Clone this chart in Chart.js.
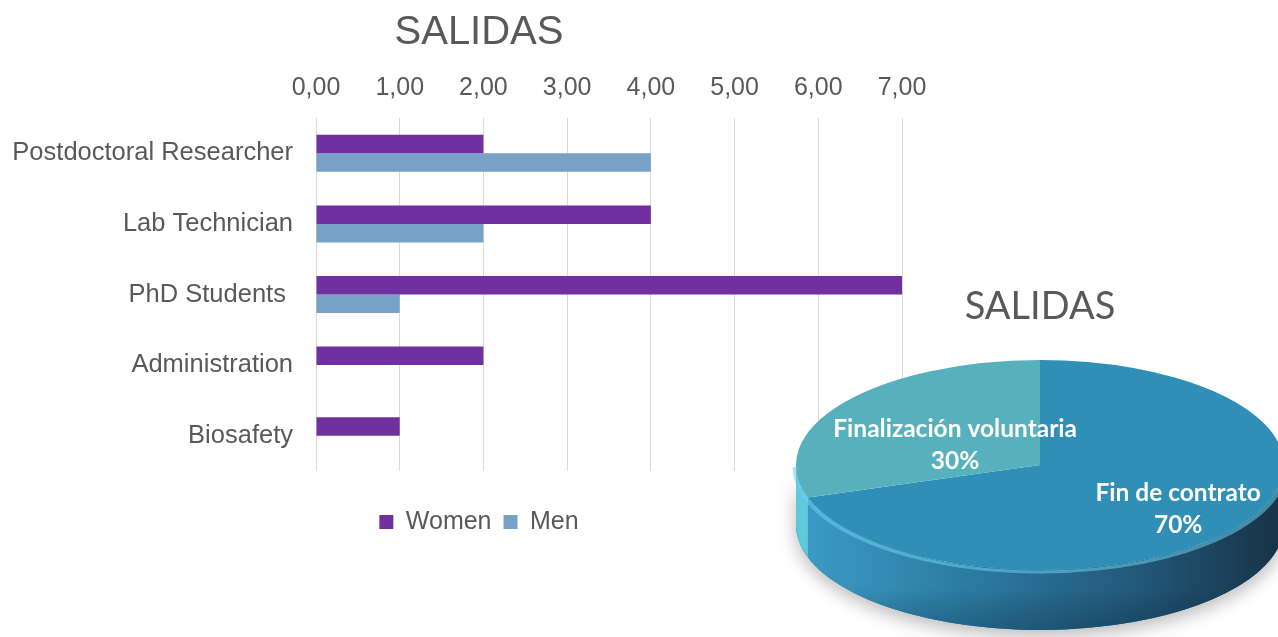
<!DOCTYPE html>
<html>
<head>
<meta charset="utf-8">
<script src="https://cdn.jsdelivr.net/npm/chart.js@4.4.1/dist/chart.umd.min.js"></script>
<style>
  html, body { margin: 0; padding: 0; background: #ffffff; overflow: hidden; width: 1278px; height: 637px; }
  #bar { position: absolute; left: 0; top: 0; }
  #pie { position: absolute; left: 770px; top: 280px; }
</style>
</head>
<body>
<canvas id="bar" width="958" height="637"></canvas>
<canvas id="pie" width="540" height="357"></canvas>
<script>
// ---- data ----
const categories = ['Postdoctoral Researcher', 'Lab Technician', 'PhD Students ', 'Administration', 'Biosafety'];
const womenValues = [2, 4, 7, 2, 1];
const menValues = [4, 2, 1, 0, 0];
const xTickLabels = ['0,00', '1,00', '2,00', '3,00', '4,00', '5,00', '6,00', '7,00'];
const chartTitle = 'SALIDAS';
const pieTitle = 'SALIDAS';
const pieLabels = ['Fin de contrato', 'Finalización voluntaria'];
const pieValues = [70, 30];

// ---- styles ----
const SANS = "'Liberation Sans', Arial, sans-serif";
const GREY = '#595959';

new Chart(document.getElementById('bar'), {
  type: 'bar',
  data: {
    labels: categories,
    datasets: [
      { label: 'Women', data: womenValues, backgroundColor: '#7030A0' },
      { label: 'Men', data: menValues, backgroundColor: '#75A2C6' }
    ]
  },
  options: {
    indexAxis: 'y',
    responsive: false,
    animation: false,
    layout: { padding: { top: 0, bottom: 92.5, left: 0, right: 0 } },
    datasets: { bar: { categoryPercentage: 0.524, barPercentage: 1 } },
    plugins: {
      title: {
        display: true, text: chartTitle, color: GREY,
        font: { family: SANS, size: 40, weight: 'normal', lineHeight: 1.2 },
        padding: { top: 9, bottom: 1 }
      },
      legend: {
        position: 'bottom',
        labels: { color: GREY, font: { family: SANS, size: 25 }, boxWidth: 14, boxHeight: 14, padding: 12 },
        title: { display: true, text: '', font: { size: 10, lineHeight: 1.2 }, padding: { top: 6.5, bottom: 8 } }
      },
      tooltip: { enabled: false }
    },
    scales: {
      x: {
        position: 'top', min: 0, max: 7,
        ticks: { stepSize: 1, color: GREY, font: { family: SANS, size: 25 }, padding: 15,
                 callback: (v) => xTickLabels[v] },
        grid: { color: '#d9d9d9', lineWidth: 1, drawTicks: false },
        border: { display: false }
      },
      y: {
        ticks: { color: GREY, font: { family: SANS, size: 25.5 }, padding: 23 },
        grid: { display: false, drawTicks: false },
        border: { display: false },
        afterFit(s) { s.width = 316; }
      },
      yRight: {
        axis: 'y', type: 'linear', position: 'right', display: true,
        grid: { display: false, drawTicks: false }, ticks: { display: false }, border: { display: false },
        afterFit(s) { s.width = 56; }
      }
    }
  }
});

// ---- 3D pie ----
const PIE = { rx: 244, ry: 105, depth: 60 };
const LABEL_POS = [[0.70, 0.72], [0.43, 0.33]];

const pie3d = {
  id: 'pie3d',
  beforeDatasetsDraw(chart) {
    const meta = chart.getDatasetMeta(0);
    const a0 = meta.data[0];
    const cx = a0.x, cy = a0.y, r = a0.outerRadius;
    const sx = PIE.rx / r, sy = PIE.ry / r;
    const ctx = chart.ctx;
    const d = PIE.depth / sy;

    // shadow underneath
    ctx.save();
    ctx.translate(cx, cy); ctx.scale(sx, sy); ctx.translate(-cx, -cy);
    ctx.shadowColor = 'rgba(0,0,0,0.28)';
    ctx.shadowBlur = 18;
    ctx.shadowOffsetY = 6;
    ctx.beginPath();
    ctx.arc(cx, cy, r, 0, Math.PI);
    ctx.lineTo(cx - r, cy + d);
    ctx.arc(cx, cy + d, r, Math.PI, 0, true);
    ctx.closePath();
    ctx.fillStyle = '#2a6f95';
    ctx.fill();
    ctx.restore();

    // side walls
    ctx.save();
    ctx.translate(cx, cy); ctx.scale(sx, sy); ctx.translate(-cx, -cy);
    const sideStops = [
      [[0, '#3c9cc6'], [0.35, '#2c7ba3'], [0.7, '#22587a'], [1, '#163245']],
      [[0, '#5fcadc'], [1, '#3a9fbe']]
    ];
    meta.data.forEach((arc, i) => {
      const s = Math.max(arc.startAngle, 0), e = Math.min(arc.endAngle, Math.PI);
      if (e <= s) return;
      ctx.beginPath();
      ctx.arc(cx, cy, r, s, e);
      ctx.lineTo(cx + r * Math.cos(e), cy + r * Math.sin(e) + d);
      ctx.arc(cx, cy + d, r, e, s, true);
      ctx.closePath();
      const g = ctx.createLinearGradient(cx - r, 0, cx + r, 0);
      sideStops[i].forEach(([o, c]) => g.addColorStop(o, c));
      ctx.fillStyle = g;
      ctx.fill();
      const gv = ctx.createLinearGradient(0, cy, 0, cy + r + d);
      gv.addColorStop(0, 'rgba(0,0,0,0)');
      gv.addColorStop(0.75, 'rgba(0,0,0,0)');
      gv.addColorStop(1, 'rgba(0,20,40,0.25)');
      ctx.fillStyle = gv;
      ctx.fill();
    });
    // rim highlight
    ctx.beginPath();
    ctx.arc(cx, cy + 2 / sy, r, 0.15, Math.PI);
    ctx.strokeStyle = 'rgba(110,205,235,0.55)';
    ctx.lineWidth = 3 / sy;
    ctx.stroke();
    ctx.restore();

    // transform for top face (restored after datasets draw)
    ctx.save();
    ctx.translate(cx, cy); ctx.scale(sx, sy); ctx.translate(-cx, -cy);
  },
  afterDatasetsDraw(chart) {
    const ctx = chart.ctx;
    ctx.restore();
    const meta = chart.getDatasetMeta(0);
    const total = pieValues.reduce((a, b) => a + b, 0);
    ctx.save();
    ctx.fillStyle = '#ffffff';
    ctx.font = "bold 24.5px Lato, 'Open Sans', sans-serif";
    ctx.textAlign = 'center';
    ctx.textBaseline = 'middle';
    meta.data.forEach((arc, i) => {
      const mid = (arc.startAngle + arc.endAngle) / 2;
      const x = arc.x + PIE.rx * LABEL_POS[i][0] * Math.cos(mid);
      const y = arc.y + PIE.ry * LABEL_POS[i][1] * Math.sin(mid);
      ctx.fillText(pieLabels[i], x, y - 16);
      ctx.fillText(Math.round(pieValues[i] / total * 100) + '%', x, y + 16);
    });
    ctx.restore();
  }
};

new Chart(document.getElementById('pie'), {
  type: 'pie',
  data: {
    labels: pieLabels,
    datasets: [{ data: pieValues, backgroundColor: ['#2f8fb7', '#56b1bd'], borderWidth: 0, clip: false }]
  },
  options: {
    responsive: false,
    animation: false,
    layout: { padding: { top: 0, bottom: 40.6 } },
    plugins: {
      title: {
        display: true, text: pieTitle, color: GREY,
        font: { family: "Lato, 'Open Sans', sans-serif", size: 38, weight: 'normal', lineHeight: 1.2 },
        padding: { top: 4, bottom: 4 }
      },
      legend: { display: false },
      tooltip: { enabled: false }
    }
  },
  plugins: [pie3d]
});
</script>
</body>
</html>
